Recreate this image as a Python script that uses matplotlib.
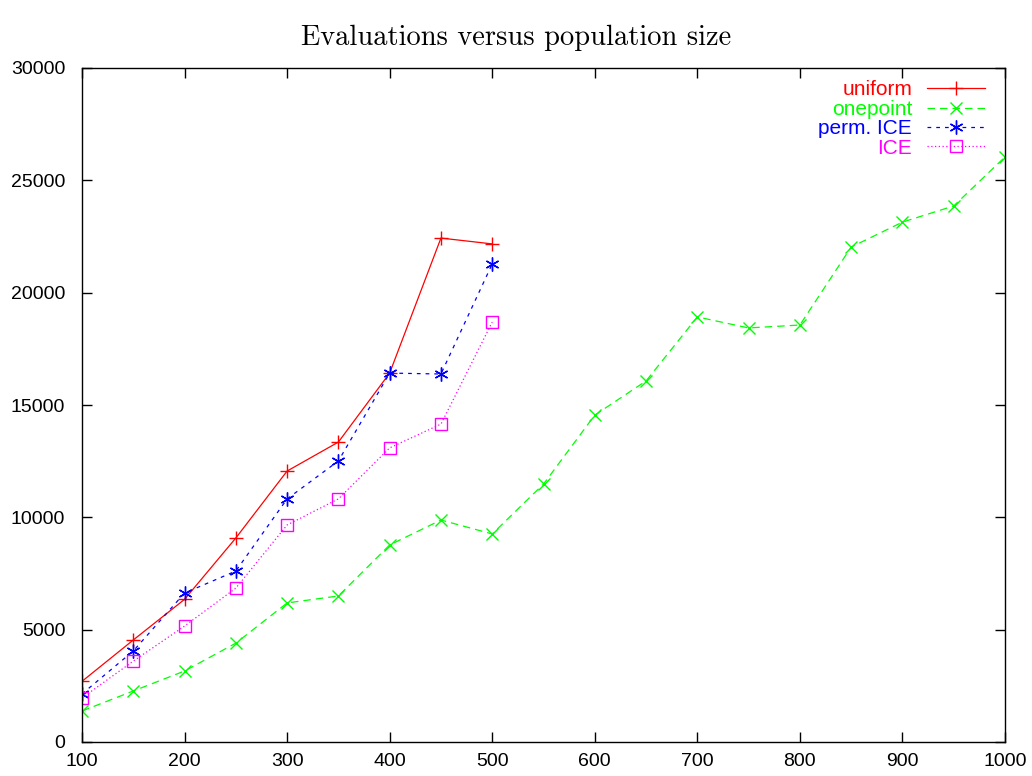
import numpy as np
import matplotlib.pyplot as plt

# population sizes
pop_small = [100, 150, 200, 250, 300, 350, 400, 450, 500]
pop_large = [100, 150, 200, 250, 300, 350, 400, 450, 500,
             550, 600, 650, 700, 750, 800, 850, 900, 950, 1000]

# evaluations per crossover operator
uniform = [2700, 4540, 6350, 9080, 12060, 13350, 16420, 22430, 22170]
onepoint = [1380, 2270, 3160, 4400, 6190, 6500, 8770, 9880, 9260,
            11480, 14550, 16070, 18920, 18430, 18560, 22030, 23140, 23860, 26040]
perm_ice = [2140, 4050, 6630, 7610, 10820, 12510, 16420, 16380, 21280]
ice = [1960, 3600, 5160, 6850, 9660, 10820, 13090, 14150, 18690]

plt.rcParams['font.family'] = ['Liberation Sans', 'DejaVu Sans']

fig = plt.figure(figsize=(10.32, 7.76), dpi=100)
ax = fig.add_axes([82 / 1032, 1 - 742 / 776, 923 / 1032, 674 / 776])

ax.plot(pop_small, uniform, color='#ff0000', linestyle='-', linewidth=0.9,
        marker='+', markersize=10, markeredgewidth=1.0, label='uniform')
ax.plot(pop_large, onepoint, color='#00ff00', linestyle=(0, (6, 4)), linewidth=0.9,
        marker='x', markersize=8, markeredgewidth=1.0, label='onepoint')
ax.plot(pop_small, perm_ice, color='#0000ff', linestyle=(0, (3, 4)), linewidth=0.9,
        marker=(6, 2, 0), markersize=10, markeredgewidth=1.0, label='perm. ICE')
ax.plot(pop_small, ice, color='#ff00ff', linestyle=(0, (1, 2)), linewidth=0.9,
        marker='s', markersize=8, markerfacecolor='none', markeredgewidth=1.0, label='ICE')

ax.set_xlim(100, 1000)
ax.set_ylim(0, 30000)
ax.set_xticks(np.arange(100, 1001, 100))
ax.set_yticks(np.arange(0, 30001, 5000))
ax.tick_params(direction='in', top=True, right=True, length=7, width=1,
               labelsize=14)
ax.tick_params(axis='y', pad=12)
ax.tick_params(axis='x', pad=8)
for s in ax.spines.values():
    s.set_linewidth(1)

fig.suptitle('Evaluations versus population size', fontname='cmr10',
             fontsize=20.5, x=0.5, y=0.968)

leg = ax.legend(loc='upper right', frameon=False, markerfirst=False,
                labelcolor='linecolor', fontsize=15, handlelength=2.8,
                handletextpad=0.7, labelspacing=0.02, borderaxespad=0.2,
                bbox_to_anchor=(0.992, 1.0))
for t in leg.get_texts():
    t.set_ha('right')

fig.savefig('out.png', dpi=100)
